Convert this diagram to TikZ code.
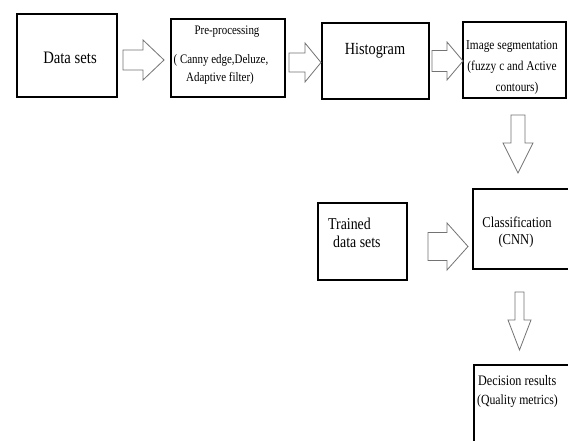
\documentclass[tikz,border=0pt]{standalone}
\usepackage{fontspec}
\setmainfont{Liberation Serif}[FakeStretch=0.84]
\begin{document}
\begin{tikzpicture}[x=1pt,y=-1pt,
  box/.style={draw=black,line width=1.6pt,fill=white},
  arrowline/.style={draw=black!55,line width=0.8pt,fill=white,line join=miter},
  txt/.style={inner sep=0pt,text height=0.7em,text depth=0.2em},
  pics/barrow/.style n args={4}{code={
    \draw[arrowline] (0,-#3) -- (#1-#2,-#3) -- (#1-#2,-#4) -- (#1,0) -- (#1-#2,#4) -- (#1-#2,#3) -- (0,#3) -- cycle;}}
]
\clip (0,0) rectangle (568,441);
\fill[white] (0,0) rectangle (568,441);
% boxes
\draw[box] (17,14) rectangle (117,97) coordinate (b1);
\draw[box] (171,19) rectangle (285,97) coordinate (b2);
\draw[box] (322,23) rectangle (429,99) coordinate (b3);
\draw[box] (463,22) rectangle (566,98) coordinate (b4);
\draw[box] (473,189) rectangle (580,269) coordinate (b5);
\draw[box] (318,203) rectangle (407,280) coordinate (b7);
\draw[box] (474,365) rectangle (580,455) coordinate (b6);
% block arrows
\pic at (123,60) {barrow={41}{21}{10}{20}};
\pic at (289,62.5) {barrow={32}{16}{9.5}{19.5}};
\pic at (432,61) {barrow={31}{16}{10.5}{19}};
\pic at (428,246.5) {barrow={40}{21}{14}{23.5}};
\pic[rotate=-90] at (518,115) {barrow={58}{30}{7}{15}};
\pic[rotate=-90] at (519.5,292) {barrow={58}{30}{4.5}{11.5}};
% texts
\node[txt,font=\fontsize{17.5}{20}\selectfont] (t1) at (70,61) {Data sets};
\node[txt,font=\fontsize{13}{15}\selectfont] (t2a) at (227,32) {Pre-processing};
\node[txt,font=\fontsize{13}{15}\selectfont] (t2b) at (221,61) {( Canny edge,Deluze,};
\node[txt,font=\fontsize{13}{15}\selectfont] (t2c) at (220,79) {Adaptive filter)};
\node[txt,font=\fontsize{17}{20}\selectfont] (t3) at (375,52) {Histogram};
\node[txt,font=\fontsize{13.5}{16}\selectfont] (t4a) at (512,47) {Image segmentation};
\node[txt,font=\fontsize{13.5}{16}\selectfont] (t4b) at (512,68) {(fuzzy c and Active};
\node[txt,font=\fontsize{13.5}{16}\selectfont] (t4c) at (517,89) {contours)};
\node[txt,font=\fontsize{15}{18}\selectfont] (t5a) at (517,225) {Classification};
\node[txt,font=\fontsize{15}{18}\selectfont] (t5b) at (516,242) {(CNN)};
\node[txt,anchor=west,font=\fontsize{16.5}{19}\selectfont] (t7a) at (328,227) {Trained};
\node[txt,anchor=west,font=\fontsize{16.5}{19}\selectfont] (t7b) at (333,245) {data sets};
\node[txt,anchor=west,font=\fontsize{14.5}{17}\selectfont] (t6a) at (478,383) {Decision results};
\node[txt,anchor=west,font=\fontsize{14}{17}\selectfont] (t6b) at (477,402) {(Quality metrics)};
\end{tikzpicture}
\end{document}
